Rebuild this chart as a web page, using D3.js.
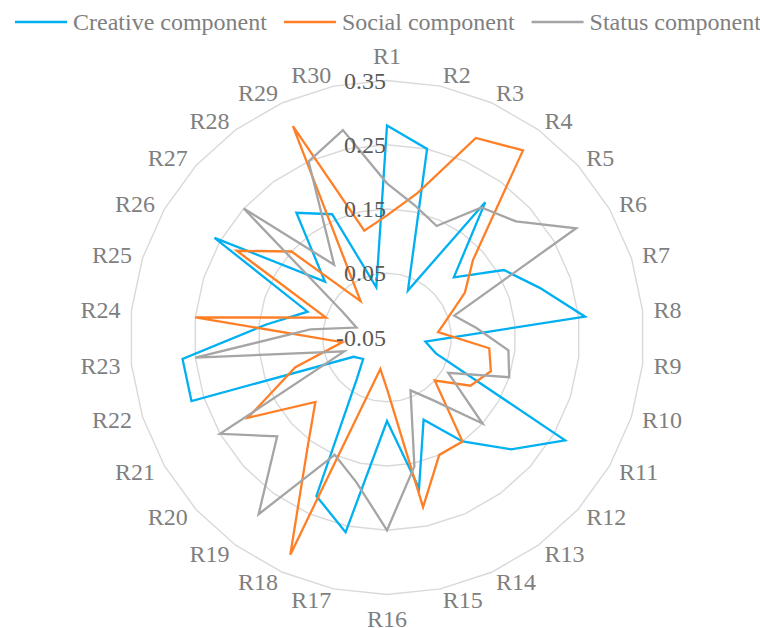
<!DOCTYPE html>
<html>
<head>
<meta charset="utf-8">
<script src="https://cdn.jsdelivr.net/npm/d3@7"></script>
<style>
  body { margin: 0; background: #fff; }
  svg { display: block; }
  text { font-family: "Liberation Serif", "Times New Roman", serif; }
</style>
</head>
<body>
<svg id="chart" width="760" height="628"></svg>
<script>
// Categories around the radar (clockwise from the top)
const categories = ["R1","R2","R3","R4","R5","R6","R7","R8","R9","R10",
                    "R11","R12","R13","R14","R15","R16","R17","R18","R19","R20",
                    "R21","R22","R23","R24","R25","R26","R27","R28","R29","R30"];

const seriesNames = ["Creative component", "Social component", "Status component"];

const creative = [0.28, 0.25, 0.03, 0.21, 0.09, 0.16, 0.20, 0.26, 0.01, 0.03,
                  0.27, 0.21, 0.15, 0.09, 0.19, 0.08, 0.26, 0.22, 0.03, 0.00,
                  0.01, 0.27, 0.27, 0.14, 0.08, 0.26, 0.08, 0.19, 0.16, 0.03];

const social   = [0.14, 0.18, 0.29, 0.31, 0.13, 0.09, 0.05, 0.03, 0.11, 0.12,
                  0.10, 0.05, 0.15, 0.15, 0.22, 0.03, 0.00, 0.32, 0.16, 0.10,
                  0.20, 0.10, 0.02, 0.25, 0.05, 0.22, 0.15, 0.02, 0.31, 0.12];

const status   = [0.19, 0.16, 0.14, 0.20, 0.22, 0.29, 0.06, 0.09, 0.14, 0.15,
                  0.06, 0.15, 0.07, 0.04, 0.155, 0.25, 0.18, 0.15, 0.29, 0.18,
                  0.25, 0.02, 0.25, 0.07, 0.00, 0.03, 0.25, 0.09, 0.25, 0.28];

// Radial axis
const tickValues = [-0.05, 0.05, 0.15, 0.25, 0.35];
const tickLabels = ["-0.05", "0.05", "0.15", "0.25", "0.35"];

const seriesColors = ["#00b0f0", "#ff7f27", "#a5a5a5"];

const cx = 387, cy = 337.5, R = 257;
const fontSize = 24;

const svg = d3.select("#chart");

const rScale = d3.scaleLinear().domain([tickValues[0], tickValues[tickValues.length - 1]]).range([0, R]);
const angle = d3.scaleLinear().domain([0, categories.length]).range([0, 2 * Math.PI]);

const g = svg.append("g").attr("transform", `translate(${cx},${cy})`);

// Polygonal gridlines
const radial = d3.lineRadial()
  .angle((d, i) => angle(i))
  .radius(d => rScale(d))
  .curve(d3.curveLinearClosed);

g.append("g").attr("class", "grid")
  .selectAll("path")
  .data(tickValues.slice(1))
  .join("path")
  .attr("d", v => radial(categories.map(() => v)))
  .attr("fill", "none")
  .attr("stroke", "#d9d9d9")
  .attr("stroke-width", 1.4);

// Series outlines
const seriesData = [creative, social, status];
g.append("g").attr("class", "series")
  .selectAll("path")
  .data(seriesData)
  .join("path")
  .attr("d", d => radial(d))
  .attr("fill", "none")
  .attr("stroke", (d, i) => seriesColors[i])
  .attr("stroke-width", 2.3)
  .attr("stroke-linejoin", "miter");

// Radial tick labels along the top spoke
g.append("g").attr("class", "ticks")
  .selectAll("text")
  .data(tickValues)
  .join("text")
  .attr("x", -1)
  .attr("y", v => -rScale(v))
  .attr("dy", "0.34em")
  .attr("text-anchor", "end")
  .attr("font-size", fontSize)
  .attr("fill", "#595959")
  .text((v, i) => tickLabels[i]);

// Category labels: side labels hang off the spoke horizontally,
// the top and bottom ones sit above / below it
const ascent = 0.891 * fontSize, descent = 0.216 * fontSize;
const boxH = ascent + descent;
const labelR = R + 11;
const catG = g.append("g").attr("class", "categories");
categories.forEach((c, i) => {
  const a = angle(i);
  const sx = Math.sin(a), sy = -Math.cos(a);
  const t = catG.append("text")
    .attr("font-size", fontSize)
    .attr("fill", "#7f7f7f")
    .attr("text-anchor", "middle")
    .text(c);
  const w = t.node().getComputedTextLength();
  let mx = sx * labelR, my = sy * labelR;
  if (Math.abs(sx) < 0.01) {
    my += Math.sign(sy) * boxH / 2;
  } else {
    mx += Math.sign(sx) * w / 2;
  }
  t.attr("x", mx).attr("y", my + ascent - boxH / 2);
});

// Legend across the top
const legend = svg.append("g").attr("class", "legend");
let lx = 15;
const ly = 22;
seriesNames.forEach((name, i) => {
  legend.append("line")
    .attr("x1", lx).attr("x2", lx + 52)
    .attr("y1", ly).attr("y2", ly)
    .attr("stroke", seriesColors[i])
    .attr("stroke-width", 2.3);
  const t = legend.append("text")
    .attr("x", lx + 58)
    .attr("y", ly)
    .attr("dy", "0.34em")
    .attr("font-size", fontSize)
    .attr("fill", "#7f7f7f")
    .text(name);
  lx += 58 + t.node().getComputedTextLength() + 17;
});
</script>
</body>
</html>
